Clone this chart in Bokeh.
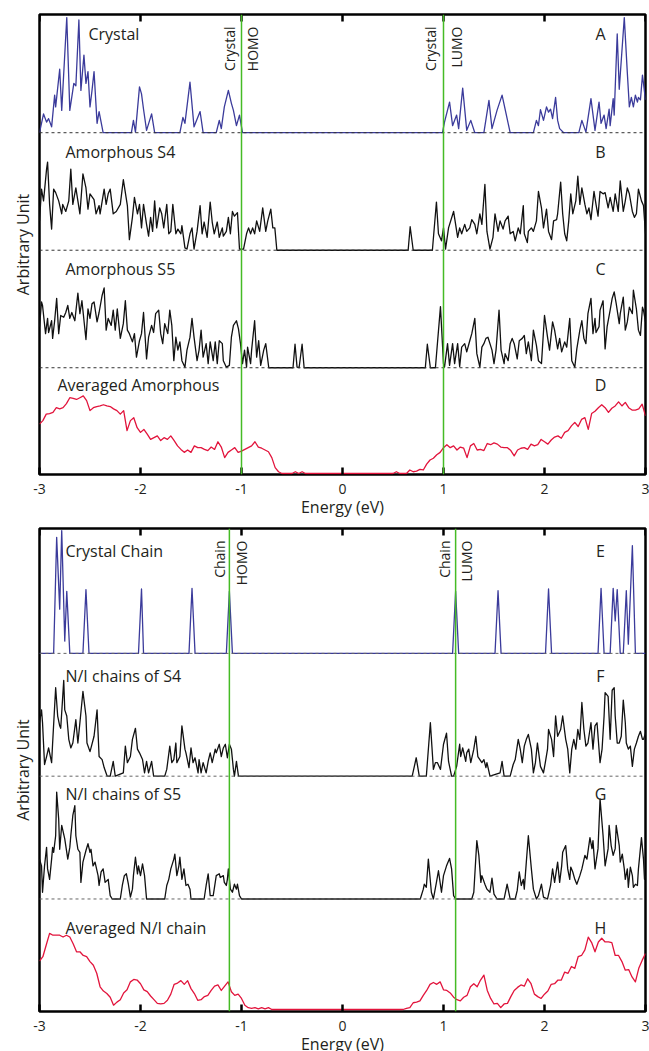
import numpy as np
from bokeh.plotting import figure
from bokeh.models import Range1d, FixedTicker, Span, Label
from bokeh.layouts import column
from bokeh.embed import file_html
from bokeh.resources import INLINE

# ---------------- data (energy in eV, intensity in arbitrary units) ----------------
x_ticks = [-3, -2, -1, 0, 1, 2, 3]
x_tick_labels = ["-3", "-2", "-1", "0", "1", "2", "3"]

# top panel: HOMO / LUMO of the crystal
crystal_homo_lumo = [-1.0, 1.0]
# bottom panel: HOMO / LUMO of the crystal chain
chain_homo_lumo = [-1.12, 1.12]

# curve offsets (stacking) top->bottom
top_offsets = [29, 19, 9, 0]
bottom_offsets = [29, 19, 9, 0]

crystal_dos = [
    (-3.00, 0), (-2.96, 1.6), (-2.93, 0.9), (-2.91, 1.2), (-2.88, 0.5), (-2.85, 3.2), (-2.84, 2.2), (-2.80, 5.4), (-2.78, 1.9), (-2.73, 9.8),
    (-2.70, 1.9), (-2.66, 4.2), (-2.64, 4.0), (-2.61, 9.6), (-2.59, 3.6), (-2.56, 6.6), (-2.54, 4.2), (-2.52, 5.2), (-2.50, 2.2), (-2.48, 3.6),
    (-2.46, 5.2), (-2.43, 0.8), (-2.41, 1.8), (-2.37, 0),
    (-2.09, 0), (-2.07, 1.05), (-2.05, 0.05), (-2.01, 3.9), (-1.99, 3.3), (-1.97, 2.0), (-1.94, 0.2), (-1.89, 1.6), (-1.86, 0),
    (-1.61, 0), (-1.58, 1.3), (-1.56, 0.8), (-1.51, 4.3), (-1.47, 0.5), (-1.41, 1.8), (-1.38, 0),
    (-1.25, 0), (-1.22, 1.05), (-1.20, 0.35), (-1.17, 2.2), (-1.13, 3.6), (-1.10, 2.5), (-1.08, 1.9), (-1.05, 0.6), (-1.02, 1.5), (-0.99, 0),
    (0.99, 0), (1.01, 0.9), (1.06, 2.6), (1.09, 0.6), (1.13, 1.5), (1.15, 0.35), (1.19, 3.8), (1.23, 0.2), (1.27, 1.05), (1.31, 0),
    (1.40, 0), (1.45, 2.75), (1.48, 0.35), (1.53, 1.9), (1.58, 3.2), (1.62, 1.6), (1.66, 0),
    (1.89, 0), (1.92, 1.05), (1.94, 0.6), (1.96, 1.96), (1.99, 1.05), (2.02, 2.2), (2.04, 1.75), (2.06, 2.0), (2.08, 1.2), (2.11, 3.0),
    (2.13, 1.05), (2.15, 0.35), (2.19, 0),
    (2.34, 0), (2.37, 1.05), (2.41, 0.05), (2.46, 2.9), (2.50, 0.2), (2.54, 2.6), (2.56, 0.8), (2.59, 1.5), (2.61, 0.35), (2.64, 2.0),
    (2.65, 0.6), (2.68, 2.9), (2.69, 1.5), (2.72, 8.4), (2.74, 3.7), (2.79, 9.8), (2.82, 5.1), (2.84, 2.2), (2.86, 3.0), (2.88, 2.2),
    (2.90, 3.2), (2.92, 2.6), (2.93, 3.0), (2.95, 2.8), (2.97, 4.9), (3.00, 2.8)]

amorph_s4_dos = [
    (-3.00, 2.5), (-2.98, 5.2), (-2.96, 4.2), (-2.93, 6.9), (-2.92, 7.5), (-2.90, 3.9), (-2.88, 1.8), (-2.86, 5.2), (-2.84, 4.9), (-2.81, 4.2),
    (-2.78, 3.1), (-2.77, 3.9), (-2.74, 3.3), (-2.71, 4.2), (-2.69, 6.9), (-2.67, 3.9), (-2.64, 5.3), (-2.62, 4.2), (-2.60, 3.1), (-2.57, 6.5),
    (-2.54, 5.3), (-2.52, 3.5), (-2.50, 4.8), (-2.46, 4.3), (-2.44, 3.1), (-2.41, 3.8), (-2.40, 3.1), (-2.36, 5.2), (-2.34, 3.9), (-2.32, 4.8),
    (-2.30, 5.2), (-2.27, 3.1), (-2.24, 3.3), (-2.20, 3.9), (-2.17, 6.0), (-2.13, 3.8), (-2.11, 0.9), (-2.08, 2.8), (-2.06, 4.5), (-2.03, 3.1),
    (-2.01, 3.9), (-1.99, 1.9), (-1.97, 3.9), (-1.94, 2.2), (-1.92, 1.2), (-1.90, 2.8), (-1.88, 1.6), (-1.86, 4.2), (-1.84, 1.9), (-1.81, 3.6),
    (-1.79, 3.1), (-1.77, 1.9), (-1.74, 3.9), (-1.72, 1.4), (-1.70, 1.6), (-1.68, 3.9), (-1.65, 1.4), (-1.63, 1.8), (-1.60, 1.4), (-1.59, 2.1),
    (-1.56, 0.2), (-1.54, 0.1), (-1.51, 1.4), (-1.49, 1.9), (-1.47, 0.1), (-1.44, 1.6), (-1.41, 3.8), (-1.39, 1.4), (-1.37, 2.4), (-1.34, 1.1),
    (-1.31, 4.1), (-1.29, 2.4), (-1.27, 1.4), (-1.24, 2.4), (-1.22, 1.1), (-1.19, 1.9), (-1.18, 1.2), (-1.15, 1.6), (-1.13, 2.8), (-1.11, 1.4),
    (-1.09, 3.3), (-1.07, 2.9), (-1.04, 3.2), (-1.02, 0.1), (-0.98, 0.1), (-0.95, 1.4), (-0.93, 1.9), (-0.91, 1.4), (-0.89, 1.9), (-0.87, 1.4),
    (-0.85, 2.5), (-0.82, 1.6), (-0.79, 3.6), (-0.76, 1.6), (-0.74, 2.5), (-0.71, 3.5), (-0.69, 1.9), (-0.67, 1.9), (-0.65, 0),
    (0.65, 0), (0.67, 2.0), (0.70, 0), (0.89, 0), (0.93, 4.1), (0.95, 1.4), (0.98, 0.8), (1.00, 1.9), (1.02, 0.1), (1.05, 1.9),
    (1.10, 3.3), (1.14, 1.1), (1.16, 1.9), (1.18, 1.4), (1.21, 2.2), (1.23, 1.6), (1.26, 1.9), (1.28, 2.6), (1.31, 2.2), (1.33, 1.4),
    (1.36, 3.1), (1.38, 2.2), (1.41, 5.6), (1.43, 1.6), (1.46, 0.1), (1.49, 1.1), (1.51, 3.1), (1.54, 1.6), (1.56, 2.5), (1.59, 1.8),
    (1.61, 2.5), (1.64, 2.9), (1.66, 1.4), (1.69, 1.6), (1.71, 0.8), (1.74, 1.9), (1.76, 1.4), (1.79, 3.8), (1.80, 1.4), (1.83, 0.65),
    (1.84, 1.6), (1.87, 1.9), (1.89, 1.6), (1.92, 2.5), (1.94, 5.0), (1.97, 3.6), (1.99, 1.9), (2.02, 3.5), (2.04, 1.6), (2.07, 0.9),
    (2.09, 2.5), (2.12, 2.6), (2.13, 3.1), (2.16, 5.8), (2.18, 3.1), (2.20, 1.4), (2.22, 0.8), (2.24, 2.5), (2.26, 4.8), (2.28, 3.1),
    (2.31, 4.2), (2.33, 6.3), (2.35, 3.9), (2.37, 5.3), (2.40, 3.9), (2.42, 3.1), (2.44, 3.6), (2.46, 2.6), (2.49, 5.0), (2.51, 3.9),
    (2.53, 2.9), (2.55, 5.0), (2.58, 4.8), (2.60, 4.9), (2.63, 3.6), (2.65, 4.5), (2.68, 3.3), (2.70, 4.8), (2.73, 3.3), (2.75, 5.9),
    (2.78, 3.3), (2.80, 4.2), (2.82, 5.3), (2.84, 4.8), (2.87, 3.3), (2.89, 2.8), (2.91, 3.1), (2.93, 5.2), (2.96, 4.2), (2.98, 3.8), (3.00, 1.4)]

amorph_s5_dos = [
    (-3.00, 3.5), (-2.98, 5.6), (-2.97, 5.3), (-2.94, 2.9), (-2.92, 4.2), (-2.91, 3.0), (-2.88, 4.0), (-2.87, 2.5), (-2.85, 4.0), (-2.83, 5.9),
    (-2.81, 2.9), (-2.79, 4.45), (-2.76, 4.3), (-2.74, 4.7), (-2.72, 5.3), (-2.70, 4.2), (-2.68, 4.7), (-2.65, 4.0), (-2.62, 6.35), (-2.60, 4.6),
    (-2.58, 5.7), (-2.54, 2.4), (-2.52, 5.0), (-2.50, 4.2), (-2.48, 5.45), (-2.46, 5.6), (-2.43, 3.9), (-2.41, 4.7), (-2.38, 6.15), (-2.36, 6.8),
    (-2.34, 3.2), (-2.32, 4.2), (-2.29, 3.6), (-2.27, 4.9), (-2.25, 3.2), (-2.23, 5.0), (-2.20, 2.5), (-2.17, 3.75), (-2.15, 5.7), (-2.13, 3.2),
    (-2.11, 2.9), (-2.08, 2.2), (-2.06, 2.9), (-2.04, 0.9), (-2.01, 2.3), (-1.99, 2.9), (-1.97, 4.7), (-1.94, 0.75), (-1.92, 2.6), (-1.89, 3.6),
    (-1.87, 3.0), (-1.85, 4.6), (-1.82, 4.9), (-1.80, 2.9), (-1.78, 2.05), (-1.76, 3.75), (-1.73, 2.9), (-1.71, 4.9), (-1.69, 3.6), (-1.67, 0.6),
    (-1.65, 2.6), (-1.63, 1.5), (-1.61, 2.2), (-1.59, 0.6), (-1.56, 0.05), (-1.54, 1.5), (-1.51, 2.6), (-1.49, 4.2), (-1.47, 2.6), (-1.44, 0.6),
    (-1.42, 1.5), (-1.40, 3.2), (-1.38, 0.9), (-1.35, 2.05), (-1.33, 0.35), (-1.31, 2.2), (-1.28, 0.6), (-1.26, 2.2), (-1.24, 0.35), (-1.22, 2.3),
    (-1.19, 2.05), (-1.18, 0.6), (-1.15, 0.05), (-1.12, 0.2), (-1.10, 2.6), (-1.08, 3.6), (-1.05, 4.0), (-1.03, 3.3), (-1.01, 2.05), (-0.99, 0.35),
    (-0.97, 1.5), (-0.95, 0.05), (-0.94, 1.75), (-0.91, 0.35), (-0.90, 1.5), (-0.87, 4.0), (-0.85, 0.9), (-0.83, 2.3), (-0.81, 0.2), (-0.78, 1.5),
    (-0.76, 2.05), (-0.73, 0), (-0.49, 0), (-0.47, 2.0), (-0.45, 0.05), (-0.43, 0), (-0.40, 2.0), (-0.38, 0),
    (0.82, 0), (0.84, 2.0), (0.87, 0), (0.92, 0), (0.97, 5.2), (1.00, 0.35), (1.01, 0.05), (1.04, 2.05), (1.06, 0.2), (1.09, 2.05),
    (1.11, 0.35), (1.14, 2.05), (1.16, 0.1), (1.18, 1.75), (1.21, 2.05), (1.23, 1.35), (1.26, 2.3), (1.28, 2.9), (1.31, 4.2), (1.33, 1.2),
    (1.36, 0.05), (1.38, 1.75), (1.40, 2.05), (1.42, 2.5), (1.44, 2.6), (1.46, 2.05), (1.48, 1.5), (1.50, 0.35), (1.52, 1.5), (1.55, 4.9),
    (1.57, 1.5), (1.60, 0.35), (1.61, 1.2), (1.64, 0.6), (1.66, 2.05), (1.68, 2.5), (1.70, 2.05), (1.73, 0.75), (1.75, 2.3), (1.78, 2.5),
    (1.80, 2.75), (1.82, 1.2), (1.84, 2.2), (1.87, 0.6), (1.89, 3.2), (1.92, 1.9), (1.94, 0.6), (1.97, 0.35), (2.00, 4.45), (2.03, 2.6),
    (2.05, 1.5), (2.08, 3.9), (2.10, 3.2), (2.13, 1.6), (2.15, 2.5), (2.17, 1.35), (2.20, 2.2), (2.22, 1.75), (2.25, 4.2), (2.27, 0.6),
    (2.30, 0.05), (2.32, 1.6), (2.35, 3.2), (2.37, 4.0), (2.39, 2.5), (2.41, 2.05), (2.43, 4.6), (2.46, 5.9), (2.48, 2.9), (2.50, 4.2),
    (2.51, 3.0), (2.54, 3.5), (2.55, 4.9), (2.58, 5.7), (2.60, 1.6), (2.62, 3.5), (2.65, 4.9), (2.67, 5.9), (2.69, 6.45), (2.71, 5.45),
    (2.74, 3.75), (2.75, 4.6), (2.78, 6.0), (2.80, 3.2), (2.82, 3.9), (2.84, 5.15), (2.87, 4.6), (2.88, 6.6), (2.91, 5.0), (2.93, 3.2),
    (2.95, 2.75), (2.97, 5.15), (2.98, 4.9), (3.00, 3.9)]

# averaged curves sampled every 1/30 eV from -3 to 3 (181 values)
amorph_avg_dos = [
    4.2, 4.5, 5.05, 5.1, 5.2, 5.6, 5.5, 5.6, 5.95, 6.45,
    6.4, 6.3, 6.45, 6.6, 6.2, 5.35, 5.6, 5.7, 5.75, 5.85,
    5.75, 5.7, 5.5, 5.35, 5.05, 5.35, 3.65, 4.5, 4.75, 3.9,
    3.5, 3.75, 3.35, 2.9, 3.05, 3.2, 2.8, 3.05, 2.9, 3.2,
    2.8, 2.35, 2.05, 1.8, 2.0, 1.8, 2.35, 2.2, 2.2, 2.05,
    1.95, 2.25, 2.05, 2.7, 2.25, 1.35, 1.8, 2.0, 2.2, 1.8,
    1.9, 2.05, 2.2, 2.35, 2.7, 2.25, 2.15, 2.0, 1.85, 1.35,
    0.5, 0.15, 0, 0, 0, 0, 0.15, 0, 0.15, 0,
    0, 0, 0, 0, 0, 0, 0, 0, 0, 0, 0,
    0, 0, 0, 0, 0, 0, 0, 0, 0, 0, 0, 0, 0, 0, 0,
    0.15, 0, 0, 0, 0.3, 0.15, 0.2, 0.35, 0.3, 0.8,
    1.15, 1.3, 1.6, 1.8, 2.2, 2.45, 2.2, 2.35, 2.0, 2.25,
    2.15, 1.35, 2.35, 2.55, 2.0, 2.05, 1.95, 2.55, 2.45, 2.6,
    2.5, 2.25, 2.2, 2.2, 1.95, 1.5, 2.0, 2.15, 2.2, 2.05,
    2.5, 2.35, 2.45, 2.9, 2.7, 2.5, 2.85, 3.1, 3.2, 3.0,
    3.5, 3.65, 4.05, 4.35, 4.0, 4.6, 4.75, 3.75, 5.1, 5.3,
    5.6, 5.85, 5.6, 5.2, 5.55, 5.75, 6.1, 5.75, 6.05, 5.6,
    5.4, 5.4, 5.5, 5.9, 4.9]

chain_crystal_dos = [
    (-3.00, 0), (-2.86, 0), (-2.83, 9.45), (-2.80, 3.6), (-2.78, 10.0), (-2.75, 1.0), (-2.73, 5.05), (-2.70, 0),
    (-2.57, 0), (-2.54, 5.2), (-2.51, 0), (-2.02, 0), (-1.99, 5.25), (-1.97, 0), (-1.52, 0), (-1.49, 5.3), (-1.46, 0),
    (-1.15, 0), (-1.12, 5.05), (-1.09, 0),
    (1.09, 0), (1.12, 5.05), (1.15, 0), (1.51, 0), (1.54, 5.1), (1.57, 0), (2.01, 0), (2.04, 5.25), (2.07, 0),
    (2.53, 0), (2.56, 5.3), (2.59, 0), (2.65, 0), (2.68, 5.3), (2.70, 2.65), (2.72, 5.2), (2.75, 0),
    (2.78, 0), (2.81, 5.1), (2.83, 0.75), (2.87, 8.77), (2.90, 0), (3.00, 0)]

nichain_s4_dos = [
    (-3.00, 4.35), (-2.98, 5.4), (-2.97, 4.35), (-2.95, 0.95), (-2.93, 1.6), (-2.91, 2.3), (-2.88, 1.1), (-2.87, 2.7), (-2.84, 7.2), (-2.82, 4.9),
    (-2.80, 4.1), (-2.79, 3.9), (-2.76, 7.8), (-2.75, 5.4), (-2.73, 4.9), (-2.71, 3.0), (-2.69, 2.3), (-2.67, 2.7), (-2.64, 4.6), (-2.62, 2.7),
    (-2.60, 4.35), (-2.57, 6.9), (-2.54, 4.9), (-2.53, 2.7), (-2.50, 2.0), (-2.49, 2.3), (-2.46, 3.25), (-2.43, 5.4), (-2.41, 1.6), (-2.38, 1.35),
    (-2.36, 0.7), (-2.33, 0), (-2.30, 0), (-2.27, 1.2), (-2.25, 0), (-2.17, 0.27), (-2.15, 2.45), (-2.13, 1.1), (-2.10, 1.6), (-2.08, 3.0),
    (-2.05, 3.9), (-2.03, 2.2), (-2.01, 1.9), (-1.98, 1.35), (-1.96, 0.27), (-1.94, 1.2), (-1.92, 0.27), (-1.89, 1.2), (-1.87, 0), (-1.76, 0),
    (-1.74, 0.55), (-1.71, 2.45), (-1.69, 1.1), (-1.67, 1.35), (-1.65, 2.7), (-1.64, 1.1), (-1.61, 1.6), (-1.59, 4.1), (-1.56, 2.2), (-1.55, 1.9),
    (-1.52, 0.7), (-1.50, 2.3), (-1.48, 1.1), (-1.46, 1.5), (-1.43, 0.27), (-1.42, 1.35), (-1.40, 0.27), (-1.38, 1.1), (-1.35, 0.27), (-1.33, 1.2),
    (-1.31, 1.9), (-1.29, 1.1), (-1.26, 2.2), (-1.25, 1.9), (-1.22, 2.6), (-1.20, 1.6), (-1.18, 2.3), (-1.16, 2.6), (-1.14, 1.5), (-1.12, 2.6),
    (-1.10, 2.2), (-1.08, 0.55), (-1.07, 0), (-1.05, 1.2), (-1.03, 0),
    (0.69, 0), (0.73, 1.5), (0.76, 0), (0.83, 0), (0.87, 4.35), (0.90, 0.55), (0.92, 1.1), (0.94, 1.1), (0.97, 0.55), (1.00, 2.6),
    (1.03, 3.5), (1.05, 1.2), (1.08, 0), (1.10, 0), (1.13, 0.8), (1.16, 2.6), (1.17, 1.6), (1.19, 2.3), (1.22, 1.2), (1.23, 1.9),
    (1.25, 2.2), (1.27, 1.1), (1.30, 2.2), (1.32, 3.25), (1.34, 1.6), (1.36, 1.35), (1.38, 1.1), (1.40, 1.35), (1.42, 0.7), (1.43, 1.1),
    (1.46, 0), (1.56, 0.27), (1.58, 1.2), (1.60, 0), (1.66, 0), (1.69, 0.95), (1.71, 1.35), (1.74, 3.0), (1.76, 2.2), (1.78, 1.1),
    (1.80, 2.45), (1.82, 3.0), (1.84, 3.4), (1.87, 2.2), (1.89, 0.27), (1.91, 1.1), (1.93, 2.7), (1.96, 0.8), (1.99, 0.27), (2.01, 1.2),
    (2.03, 2.2), (2.04, 3.8), (2.07, 3.0), (2.09, 1.6), (2.11, 4.9), (2.13, 3.25), (2.16, 3.8), (2.18, 4.9), (2.21, 3.0), (2.23, 2.2),
    (2.25, 0.27), (2.27, 2.2), (2.29, 3.0), (2.31, 2.2), (2.33, 3.8), (2.35, 3.0), (2.37, 6.0), (2.39, 3.8), (2.41, 2.45), (2.43, 2.7),
    (2.46, 4.35), (2.48, 2.2), (2.50, 4.1), (2.52, 4.35), (2.55, 1.1), (2.57, 2.2), (2.59, 4.9), (2.60, 6.8), (2.63, 6.5), (2.65, 3.0),
    (2.67, 7.0), (2.69, 7.2), (2.70, 4.9), (2.72, 2.7), (2.74, 2.7), (2.76, 3.25), (2.78, 6.2), (2.80, 4.35), (2.81, 2.7), (2.83, 2.2),
    (2.85, 2.45), (2.87, 0.8), (2.89, 2.2), (2.91, 2.7), (2.93, 3.25), (2.95, 3.65), (2.97, 3.0), (2.98, 3.0), (3.00, 3.5)]

nichain_s5_dos = [
    (-3.00, 3.25), (-2.98, 2.7), (-2.97, 0.55), (-2.95, 2.7), (-2.93, 4.2), (-2.92, 2.45), (-2.90, 1.6), (-2.88, 3.25), (-2.87, 4.2), (-2.86, 3.8),
    (-2.84, 5.15), (-2.83, 8.7), (-2.81, 6.5), (-2.80, 4.05), (-2.78, 6.0), (-2.75, 4.9), (-2.74, 4.35), (-2.72, 3.25), (-2.70, 4.2), (-2.69, 5.15),
    (-2.67, 6.8), (-2.65, 7.6), (-2.64, 5.15), (-2.62, 4.05), (-2.60, 3.8), (-2.59, 1.35), (-2.57, 3.0), (-2.54, 3.95), (-2.52, 4.5), (-2.50, 3.8),
    (-2.49, 4.05), (-2.47, 2.7), (-2.45, 3.0), (-2.42, 1.9), (-2.41, 1.1), (-2.39, 2.2), (-2.37, 2.45), (-2.35, 1.35), (-2.32, 1.6), (-2.30, 0.27),
    (-2.28, 0), (-2.20, 0), (-2.18, 1.1), (-2.16, 1.9), (-2.14, 2.05), (-2.12, 1.2), (-2.10, 0.15), (-2.08, 0.8), (-2.07, 1.9), (-2.05, 3.4),
    (-2.03, 2.05), (-2.02, 2.7), (-2.00, 1.9), (-1.98, 2.85), (-1.96, 1.9), (-1.94, 0), (-1.76, 0), (-1.74, 1.1), (-1.72, 1.6), (-1.70, 2.45),
    (-1.67, 3.25), (-1.66, 3.65), (-1.64, 1.9), (-1.62, 2.7), (-1.61, 3.4), (-1.59, 1.6), (-1.57, 2.45), (-1.55, 1.1), (-1.53, 1.2), (-1.51, 0.8),
    (-1.50, 0), (-1.37, 0), (-1.35, 1.1), (-1.33, 2.05), (-1.31, 0.27), (-1.28, 0.27), (-1.26, 1.35), (-1.25, 1.9), (-1.22, 2.05), (-1.21, 1.75),
    (-1.18, 1.9), (-1.17, 1.35), (-1.15, 1.1), (-1.14, 1.6), (-1.13, 2.45), (-1.11, 0.8), (-1.09, 0.55), (-1.07, 1.2), (-1.05, 0.8), (-1.04, 1.2),
    (-1.02, 0.27), (-1.00, 0),
    (0.77, 0), (0.80, 0.8), (0.81, 1.2), (0.83, 0.95), (0.85, 3.25), (0.88, 0.55), (0.90, 0), (0.93, 1.35), (0.95, 2.3), (0.98, 0.55),
    (1.00, 1.9), (1.03, 2.7), (1.06, 3.3), (1.08, 2.45), (1.10, 0.27), (1.12, 0), (1.28, 0), (1.30, 0.55), (1.33, 4.75), (1.35, 3.55),
    (1.37, 1.35), (1.38, 1.9), (1.41, 1.2), (1.43, 0.8), (1.46, 0.55), (1.48, 1.7), (1.50, 0.4), (1.53, 0), (1.60, 0), (1.63, 1.2),
    (1.66, 0), (1.71, 0), (1.73, 0.7), (1.75, 2.2), (1.77, 1.1), (1.79, 1.6), (1.80, 0.8), (1.82, 3.0), (1.84, 5.15), (1.87, 2.45),
    (1.89, 0.8), (1.92, 0), (1.94, 0.27), (1.97, 1.2), (1.99, 0.15), (2.03, 0), (2.06, 1.1), (2.08, 2.45), (2.10, 1.35), (2.13, 3.0),
    (2.15, 1.35), (2.17, 2.7), (2.18, 3.8), (2.21, 4.35), (2.23, 2.45), (2.25, 1.6), (2.26, 2.6), (2.28, 2.2), (2.30, 1.6), (2.32, 1.2),
    (2.35, 1.9), (2.37, 2.45), (2.40, 3.55), (2.42, 3.25), (2.45, 5.0), (2.47, 4.1), (2.48, 4.75), (2.50, 2.45), (2.53, 4.1), (2.55, 8.15),
    (2.58, 5.15), (2.60, 2.7), (2.63, 4.1), (2.64, 6.0), (2.66, 4.35), (2.68, 3.55), (2.70, 4.1), (2.71, 6.0), (2.74, 4.35), (2.75, 3.0),
    (2.77, 3.65), (2.79, 2.45), (2.80, 1.6), (2.82, 2.45), (2.83, 0.95), (2.85, 2.6), (2.87, 1.9), (2.88, 0.95), (2.90, 1.2), (2.92, 1.1),
    (2.93, 2.45), (2.96, 5.0), (2.98, 3.25), (2.99, 1.6), (3.00, 1.9)]

nichain_avg_dos = [
    3.95, 4.3, 5.25, 6.2, 6.05, 6.05, 6.05, 5.9, 6.05, 5.9,
    5.35, 4.7, 4.7, 4.4, 4.3, 3.9, 3.6, 2.95, 1.85, 1.5,
    1.3, 1.0, 0.35, 0.6, 0.8, 1.35, 1.6, 2.25, 2.45, 2.4,
    2.1, 1.6, 1.45, 1.1, 0.8, 0.5, 0.45, 0.5, 0.75, 1.25,
    2.05, 2.15, 2.35, 2.05, 2.35, 1.7, 1.3, 0.75, 0.8, 1.05,
    1.15, 1.55, 1.9, 2.0, 1.55, 1.9, 2.25, 1.45, 1.15, 1.25,
    0.9, 0.35, 0.15, 0.1, 0.15, 0.05, 0.15, 0.05, 0.15, 0,
    0, 0, 0, 0, 0, 0, 0, 0, 0, 0, 0, 0, 0, 0, 0, 0, 0, 0, 0, 0, 0,
    0, 0, 0, 0, 0, 0, 0, 0, 0, 0, 0, 0, 0, 0, 0, 0, 0, 0,
    0.1, 0.15, 0.55, 0.6, 0.7, 1.15, 1.55, 2.05, 2.2, 2.05,
    2.25, 1.6, 1.55, 1.35, 1.0, 0.8, 0.7, 1.0, 1.15, 1.85,
    2.1, 1.85, 2.4, 2.8, 1.55, 0.9, 0.45, 0.5, 0.15, 0.45,
    0.5, 1.05, 1.55, 1.8, 2.0, 1.9, 2.5, 2.1, 1.25, 1.05,
    0.9, 1.25, 1.5, 2.05, 2.1, 2.4, 2.4, 3.05, 2.95, 3.5,
    3.35, 4.3, 4.4, 4.85, 5.9, 5.45, 4.7, 5.5, 5.8, 5.5,
    5.5, 5.45, 4.4, 4.4, 3.9, 3.2, 3.25, 2.65, 2.25, 3.35,
    4.0, 4.55]

assert len(amorph_avg_dos) == 181, len(amorph_avg_dos)
assert len(nichain_avg_dos) == 181, len(nichain_avg_dos)

top_names = ["Crystal", "Amorphous S4", "Amorphous S5", "Averaged Amorphous"]
top_letters = ["A", "B", "C", "D"]
bottom_names = ["Crystal Chain", "N/I chains of S4", "N/I chains of S5", "Averaged N/I chain"]
bottom_letters = ["E", "F", "G", "H"]

# ---------------- styling ----------------
FONT = "Open Sans"
TXT = "#231f20"
BLUE = "#3b3b9b"
RED = "#e2143c"
GREEN = "#45bb25"
BLACK = "#111111"
TICK_LEN_PX = 7


def grid_pairs(vals):
    e = np.linspace(-3, 3, len(vals))
    return list(zip(e, vals))


def make_panel(curves, colors, offsets, names, name_pos, letters, letter_y,
               levels, rot_words, rot_dx, rot_top, y_lo, y_hi, frame_h, dash_color, top_border):
    p = figure(frame_width=606, frame_height=frame_h,
               x_range=Range1d(-3, 3), y_range=Range1d(y_lo, y_hi),
               output_backend="svg", toolbar_location=None,
               min_border_left=39, min_border_right=4, min_border_top=top_border, min_border_bottom=48,
               background_fill_color="white", border_fill_color="white")
    p.xgrid.visible = False
    p.ygrid.visible = False
    p.outline_line_color = "black"
    p.outline_line_width = 2.5
    p.outline_line_alpha = 1.0

    xa = p.xaxis[0]
    xa.ticker = FixedTicker(ticks=x_ticks)
    xa.major_label_overrides = {t: l for t, l in zip(x_ticks, x_tick_labels)}
    xa.major_tick_in = TICK_LEN_PX
    xa.major_tick_out = 0
    xa.major_tick_line_width = 2.5
    xa.minor_tick_line_color = None
    xa.axis_line_color = None
    xa.major_label_text_font = FONT
    xa.major_label_text_font_size = "14px"
    xa.major_label_text_color = TXT
    xa.major_label_standoff = 9
    xa.axis_label = "Energy (eV)"
    xa.axis_label_text_font = FONT
    xa.axis_label_text_font_size = "16px"
    xa.axis_label_text_font_style = "normal"
    xa.axis_label_text_color = TXT
    xa.axis_label_standoff = -1

    # inward ticks along the top edge of the frame
    tick_len = TICK_LEN_PX * (y_hi - y_lo) / frame_h
    p.segment(x0=x_ticks, y0=[y_hi] * len(x_ticks), x1=x_ticks, y1=[y_hi - tick_len] * len(x_ticks),
              line_color="black", line_width=2.5)

    ya = p.yaxis[0]
    ya.ticker = FixedTicker(ticks=[])
    ya.major_tick_line_color = None
    ya.minor_tick_line_color = None
    ya.axis_line_color = None
    ya.major_label_standoff = 0
    ya.axis_label = "Arbitrary Unit"
    ya.axis_label_text_font = FONT
    ya.axis_label_text_font_size = "16px"
    ya.axis_label_text_font_style = "normal"
    ya.axis_label_text_color = TXT
    ya.axis_label_standoff = 6

    for pairs, col, off in zip(curves, colors, offsets):
        ex = [e for e, _ in pairs]
        hy = [v + off for _, v in pairs]
        p.line(ex, hy, line_color=col, line_width=1.3, line_join="round")

    for off in offsets[:3]:
        p.add_layout(Span(location=off, dimension="width", line_color=dash_color,
                          line_width=1, line_dash="3 3"))
    for lv in levels:
        p.add_layout(Span(location=lv, dimension="height", line_color=GREEN, line_width=1.5))

    for name, (lx, ly) in zip(names, name_pos):
        p.add_layout(Label(x=lx, y=ly, text=name, text_font=FONT, text_font_size="16px",
                           text_color=TXT, text_align="left", text_baseline="alphabetic"))
    for let, ly in zip(letters, letter_y):
        p.add_layout(Label(x=2.554, y=ly, text=let, text_font=FONT, text_font_size="16px",
                           text_color=TXT, text_align="center", text_baseline="alphabetic"))
    for word, lv_i, dx in zip(rot_words, [0, 0, 1, 1], rot_dx):
        p.add_layout(Label(x=levels[lv_i] + dx, y=rot_top, text=word, angle=np.pi / 2,
                           text_font=FONT, text_font_size="14px", text_color=TXT,
                           text_align="right", text_baseline="middle"))
    return p


p1 = make_panel(
    [crystal_dos, amorph_s4_dos, amorph_s5_dos, grid_pairs(amorph_avg_dos)],
    [BLUE, BLACK, BLACK, RED], top_offsets, top_names,
    [(-2.515, 37.42), (-2.743, 27.34), (-2.743, 17.42), (-2.822, 7.49)],
    top_letters, [37.42, 27.34, 17.42, 7.49],
    crystal_homo_lumo, ["Crystal", "HOMO", "Crystal", "LUMO"], [-0.12, 0.11, -0.13, 0.13],
    38.04, -0.085, 39.06, 460, "#333333", 14)

p2 = make_panel(
    [chain_crystal_dos, nichain_s4_dos, nichain_s5_dos, grid_pairs(nichain_avg_dos)],
    [BLUE, BLACK, BLACK, RED], bottom_offsets, bottom_names,
    [(-2.743, 37.32), (-2.743, 27.14), (-2.743, 17.51), (-2.743, 6.65)],
    bottom_letters, [37.32, 27.14, 17.51, 6.65],
    chain_homo_lumo, ["Chain", "HOMO", "Chain", "LUMO"], [-0.10, 0.12, -0.11, 0.11],
    38.19, -0.163, 39.17, 483, "#666666", 6)

layout = column(p1, p2)
open("out.html", "w").write(file_html(layout, INLINE))
